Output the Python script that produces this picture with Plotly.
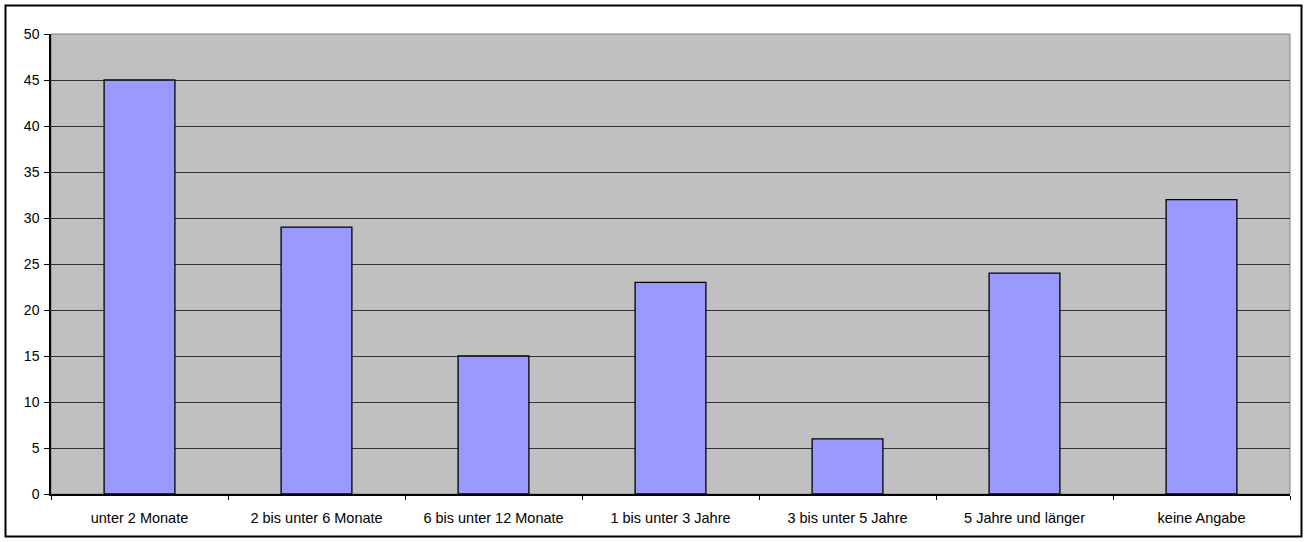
import plotly.graph_objects as go

categories = [
    "unter 2 Monate",
    "2 bis unter 6 Monate",
    "6 bis unter 12 Monate",
    "1 bis unter 3 Jahre",
    "3 bis unter 5 Jahre",
    "5 Jahre und länger",
    "keine Angabe",
]
values = [45, 29, 15, 23, 6, 24, 32]
y_ticks = [0, 5, 10, 15, 20, 25, 30, 35, 40, 45, 50]

W, H = 1305, 542
ML, MR, MT, MB = 51, 15, 34, 48
pw = W - ML - MR
ph = H - MT - MB

fig = go.Figure(
    go.Bar(
        x=categories,
        y=values,
        marker=dict(color="#9999FF", line=dict(color="#000000", width=1.3)),
        width=0.4,
        hoverinfo="x+y",
    )
)

# outer chart border, given in pixels and converted to paper coords
def px_x(p):
    return (p - ML) / pw

def px_y(p):
    return 1 - (p - MT) / ph

fig.add_shape(
    type="rect", xref="paper", yref="paper",
    x0=px_x(5.5), x1=px_x(1301.5), y0=px_y(536.5), y1=px_y(5.5),
    line=dict(color="#000000", width=2), layer="below",
)
# light frame on top / right of the plot area
fig.add_shape(
    type="rect", xref="paper", yref="paper",
    x0=0, x1=1, y0=0, y1=1,
    line=dict(color="#808080", width=1), layer="below",
)

fig.update_layout(
    width=W, height=H,
    margin=dict(l=ML, r=MR, t=MT, b=MB),
    paper_bgcolor="#FFFFFF",
    plot_bgcolor="#C0C0C0",
    font=dict(family="Liberation Sans, Arial, sans-serif", size=14, color="#000000"),
    showlegend=False,
    bargap=0.6,
)
fig.update_xaxes(
    type="category",
    tickson="boundaries",
    ticks="outside", ticklen=4, tickcolor="#000000", tickwidth=1,
    showline=True, linecolor="#000000", linewidth=1.5,
    showgrid=False,
    ticklabelstandoff=10,
    tickfont=dict(size=14.5),
)
fig.update_yaxes(
    range=[0, 50],
    tickvals=y_ticks,
    ticks="outside", ticklen=5, tickcolor="#000000", tickwidth=1,
    showline=True, linecolor="#000000", linewidth=1.5,
    showgrid=True, gridcolor="#333333", gridwidth=1,
    zeroline=False,
    ticklabelstandoff=2,
    tickfont=dict(size=14),
)

fig.write_html("out.html")
